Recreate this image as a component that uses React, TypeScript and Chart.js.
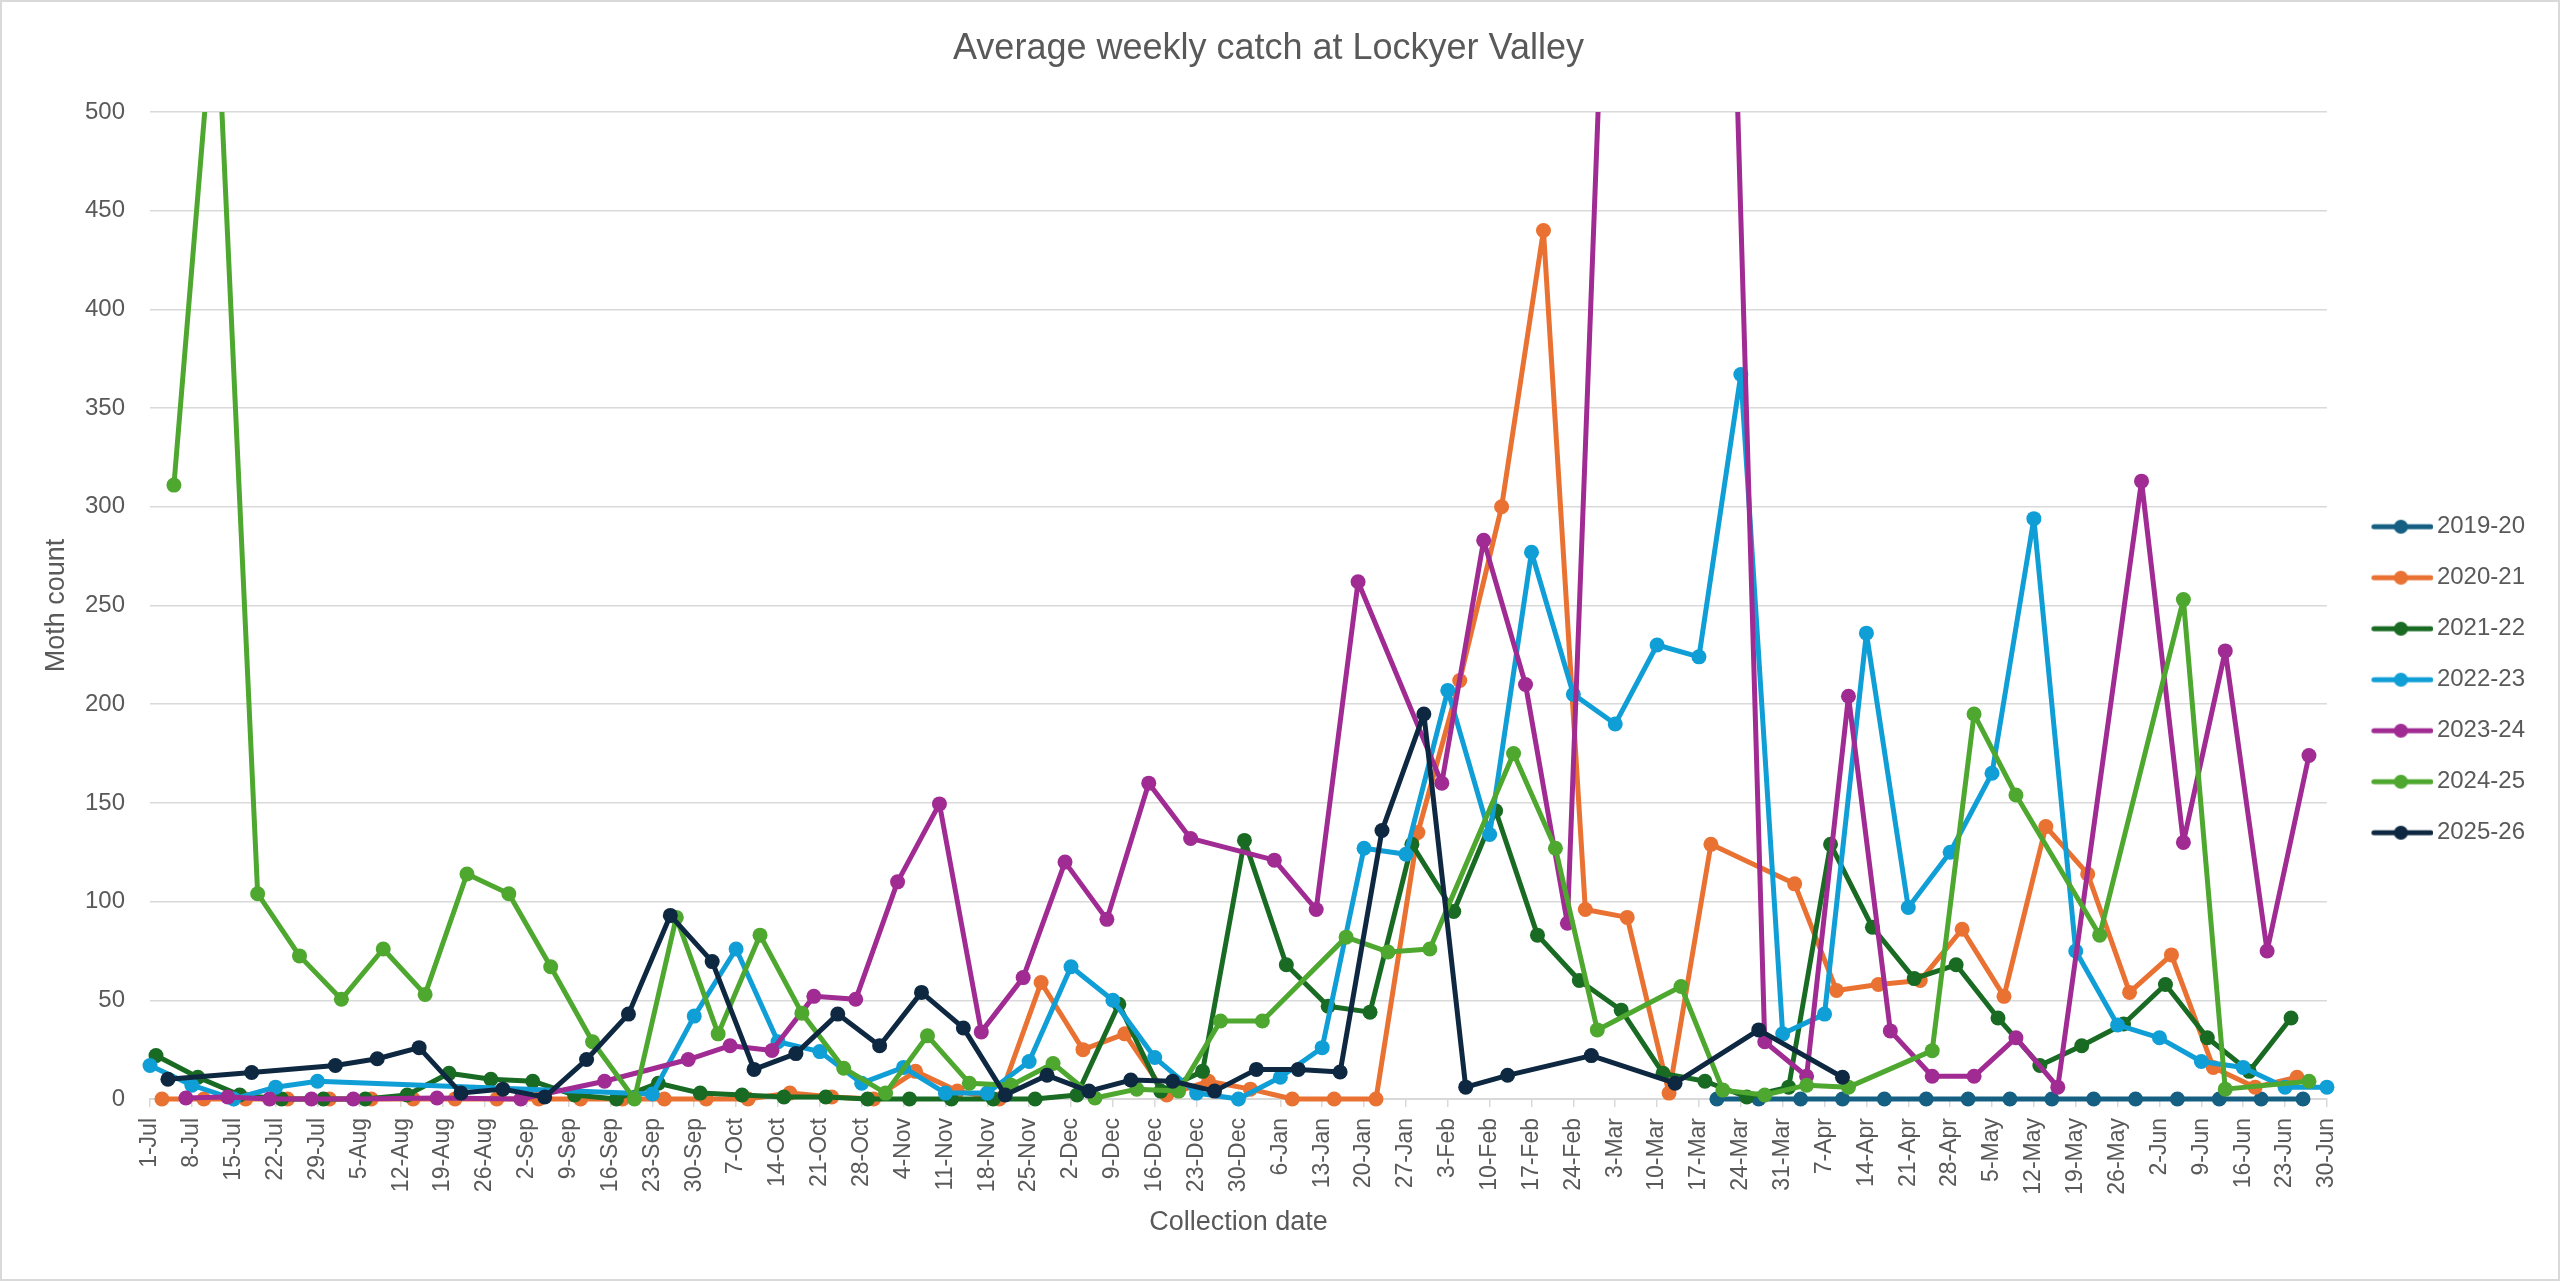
import { useEffect, useRef } from 'react'
import { Chart, registerables } from 'chart.js'

Chart.register(...registerables)

// x positions are days counted from 1 July
const tickLabels = [
  '1-Jul', '8-Jul', '15-Jul', '22-Jul', '29-Jul', '5-Aug', '12-Aug', '19-Aug', '26-Aug',
  '2-Sep', '9-Sep', '16-Sep', '23-Sep', '30-Sep', '7-Oct', '14-Oct', '21-Oct', '28-Oct',
  '4-Nov', '11-Nov', '18-Nov', '25-Nov', '2-Dec', '9-Dec', '16-Dec', '23-Dec', '30-Dec',
  '6-Jan', '13-Jan', '20-Jan', '27-Jan', '3-Feb', '10-Feb', '17-Feb', '24-Feb', '3-Mar',
  '10-Mar', '17-Mar', '24-Mar', '31-Mar', '7-Apr', '14-Apr', '21-Apr', '28-Apr', '5-May',
  '12-May', '19-May', '26-May', '2-Jun', '9-Jun', '16-Jun', '23-Jun', '30-Jun',
]

const days1920 = [262, 269, 276, 283, 290, 297, 304, 311, 318, 325, 332, 339, 346, 353, 360]
const catch1920 = [0, 0, 0, 0, 0, 0, 0, 0, 0, 0, 0, 0, 0, 0, 0]

const days2021 = [
  2, 9, 16, 23, 30, 37, 44, 51, 58, 65, 72, 79, 86, 93, 100, 107, 114, 121, 128, 135, 142,
  149, 156, 163, 170, 177, 184, 191, 198, 205, 212, 219, 226, 233, 240, 247, 254, 261, 275,
  282, 289, 296, 303, 310, 317, 324, 331, 338, 345, 352, 359,
]
const catch2021 = [
  0, 0, 0, 0, 0, 0, 0, 0, 0, 0, 0, 0, 0, 0, 0, 3, 1, 0, 14, 4, 0, 59, 25, 33, 2, 9, 5, 0, 0,
  0, 135, 212, 300, 440, 96, 92, 3, 129, 109, 55, 58, 60, 86, 52, 138, 114, 54, 73, 16, 6, 11,
]

const days2122 = [
  1, 8, 15, 22, 29, 36, 43, 50, 57, 64, 71, 78, 85, 92, 99, 106, 113, 120, 127, 134, 141, 148,
  155, 162, 169, 176, 183, 190, 197, 204, 211, 218, 225, 232, 239, 246, 253, 260, 267, 274,
  281, 288, 295, 302, 309, 316, 323, 330, 337, 344, 351, 358,
]
const catch2122 = [
  22, 11, 2, 0, 0, 0, 2, 13, 10, 9, 2, 0, 8, 3, 2, 1, 1, 0, 0, 0, 0, 0, 2, 48, 4, 14, 131, 68,
  47, 44, 129, 95, 146, 83, 60, 45, 13, 9, 1, 6, 129, 87, 61, 68, 41, 17, 27, 38, 58, 31, 14, 41,
]

const days2223 = [
  0, 7, 14, 21, 28, 84, 91, 98, 105, 112, 119, 126, 133, 140, 147, 154, 161, 168, 175, 182,
  189, 196, 203, 210, 217, 224, 231, 238, 245, 252, 259, 266, 273, 280, 287, 294, 301, 308,
  315, 322, 329, 336, 343, 350, 357, 364,
]
const catch2223 = [
  17, 7, 0, 6, 9, 2.5, 42, 76, 29, 24, 8, 16, 3, 3, 19, 67, 50, 21, 3, 0, 11, 26, 127, 124,
  207, 134, 277, 205, 190, 230, 224, 367, 33, 43, 236, 97, 125, 165, 294, 75, 37.5, 31, 19, 16,
  6, 6,
]

const days2324 = [
  6, 13, 20, 27, 34, 48, 62, 76, 90, 97, 104, 111, 118, 125, 132, 139, 146, 153, 160, 167,
  174, 188, 195, 202, 216, 223, 230, 237, 244, 249, 256, 263, 270, 277, 284, 291, 298, 305,
  312, 319, 333, 340, 347, 354, 361,
]
const catch2324 = [
  0.5, 1, 0, 0, 0, 0.5, 0, 9, 20, 27, 24.6, 52, 50.5, 110, 149.5, 34, 61.5, 120, 91, 160, 132,
  121, 96, 262, 160, 283, 210, 89, 650, 1000, 850, 760, 29, 11.5, 204, 34.5, 11.5, 11.5, 31, 6,
  313, 130, 227, 75, 174,
]

const days2425 = [
  4, 11, 18, 25, 32, 39, 46, 53, 60, 67, 74, 81, 88, 95, 102, 109, 116, 123, 130, 137, 144,
  151, 158, 165, 172, 179, 186, 200, 207, 214, 228, 235, 242, 256, 263, 270, 277, 284, 298,
  305, 312, 326, 340, 347, 361,
]
const catch2425 = [
  311, 568, 104, 72.5, 50.5, 76, 53, 114, 104, 67, 29, 0, 92, 33, 83, 43.5, 15.6, 3, 32, 8, 7,
  18, 0.5, 5, 4, 39.5, 39.5, 82, 74.5, 76, 175, 127, 35, 57, 4.5, 2, 7, 6, 24.5, 195, 154, 83,
  253, 5, 9,
]

const days2526 = [
  3, 17, 31, 38, 45, 52, 59, 66, 73, 80, 87, 94, 101, 108, 115, 122, 129, 136, 143, 150, 157,
  164, 171, 178, 185, 192, 199, 206, 213, 220, 227, 241, 255, 269, 283,
]
const catch2526 = [
  10, 13.4, 17, 20.4, 26, 3, 5, 1, 20, 43, 93, 69.6, 15, 23, 43, 27, 54, 36, 2, 12, 4, 9.6, 9,
  4, 15, 15, 13.7, 136, 195, 6, 12, 22, 8, 35, 11,
]

const seasons = [
  { label: '2019-20', color: '#156082', days: days1920, values: catch1920 },
  { label: '2020-21', color: '#E97132', days: days2021, values: catch2021 },
  { label: '2021-22', color: '#196B24', days: days2122, values: catch2122 },
  { label: '2022-23', color: '#0F9ED5', days: days2223, values: catch2223 },
  { label: '2023-24', color: '#A02B93', days: days2324, values: catch2324 },
  { label: '2024-25', color: '#4EA72E', days: days2425, values: catch2425 },
  { label: '2025-26', color: '#0E2841', days: days2526, values: catch2526 },
]

const FONT = "'Liberation Sans', Arial, sans-serif"
const TEXT = '#595959'
const GRID = '#d9d9d9'

// line-with-dot swatch for the legend
function legendSwatch(color: string) {
  const c = document.createElement('canvas')
  c.width = 88
  c.height = 18
  const g = c.getContext('2d')!
  g.strokeStyle = color
  g.lineWidth = 5
  g.lineCap = 'round'
  g.beginPath()
  g.moveTo(28.5, 9)
  g.lineTo(85.5, 9)
  g.stroke()
  g.fillStyle = color
  g.beginPath()
  g.arc(55.5, 9, 7, 0, Math.PI * 2)
  g.fill()
  return c
}

export default function App() {
  const canvasRef = useRef<HTMLCanvasElement>(null)
  const chartRef = useRef<Chart | null>(null)

  useEffect(() => {
    document.body.style.margin = '0'
    if (!canvasRef.current) return
    if (chartRef.current) chartRef.current.destroy()

    const swatches = seasons.map((s) => legendSwatch(s.color))

    chartRef.current = new Chart(canvasRef.current, {
      type: 'line',
      data: {
        datasets: seasons.map((s, i) => ({
          label: s.label,
          data: s.days.map((d, j) => ({ x: d, y: s.values[j] })),
          borderColor: s.color,
          backgroundColor: s.color,
          borderWidth: 5,
          borderJoinStyle: 'round',
          borderCapStyle: 'round',
          pointRadius: 7.5,
          pointHoverRadius: 7.5,
          pointBorderWidth: 0,
          pointBackgroundColor: s.color,
          tension: 0,
          order: seasons.length - 1 - i,
          clip: { left: 12, top: 0, right: 12, bottom: 12 },
        })),
      },
      options: {
        responsive: true,
        maintainAspectRatio: false,
        animation: false,
        layout: { padding: { top: 25.4, right: 23, bottom: 0, left: 0 } },
        plugins: {
          title: {
            display: true,
            text: 'Average weekly catch at Lockyer Valley',
            color: TEXT,
            font: { family: FONT, size: 36, weight: 'normal' },
            padding: { top: 0, bottom: 41.4 },
          },
          legend: {
            position: 'right',
            align: 'center',
            title: { display: true, text: '', font: { size: 13 }, padding: { top: 0, bottom: 37.4 } },
            labels: {
              usePointStyle: true,
              pointStyleWidth: 71,
              padding: 27,
              color: TEXT,
              font: { family: FONT, size: 24 },
              generateLabels: (chart) =>
                chart.data.datasets.map((ds, i) => ({
                  text: ds.label as string,
                  pointStyle: swatches[i],
                  fillStyle: seasons[i].color,
                  strokeStyle: seasons[i].color,
                  lineWidth: 0,
                  hidden: false,
                  datasetIndex: i,
                  fontColor: TEXT,
                })),
            },
          },
          tooltip: { enabled: false },
        },
        scales: {
          x: {
            type: 'linear',
            min: 0,
            max: 364,
            afterFit: (scale) => {
              scale.height = 180
            },
            ticks: {
              stepSize: 7,
              autoSkip: false,
              maxRotation: 90,
              minRotation: 90,
              padding: 11,
              color: TEXT,
              font: { family: FONT, size: 23 },
              callback: (v) => tickLabels[Math.round(Number(v) / 7)] ?? '',
            },
            grid: { drawOnChartArea: false, drawTicks: true, tickLength: 8, color: GRID, lineWidth: 1.5 },
            border: { display: true, color: GRID, width: 2 },
            title: {
              display: true,
              text: 'Collection date',
              color: TEXT,
              font: { family: FONT, size: 27 },
              padding: { top: 0, bottom: 39.8 },
            },
          },
          y: {
            min: 0,
            max: 500,
            afterFit: (scale) => {
              scale.width = 148
            },
            ticks: {
              stepSize: 50,
              padding: 25,
              color: TEXT,
              font: { family: FONT, size: 24 },
            },
            grid: { color: GRID, lineWidth: 1.5, drawTicks: false },
            border: { display: false },
            title: {
              display: true,
              text: 'Moth count',
              color: TEXT,
              font: { family: FONT, size: 27 },
              padding: { top: 38.8, bottom: 0 },
            },
          },
        },
      },
    })

    return () => {
      if (chartRef.current) {
        chartRef.current.destroy()
        chartRef.current = null
      }
    }
  }, [])

  return (
    <div
      style={{
        width: 2560,
        height: 1281,
        boxSizing: 'border-box',
        border: '2px solid #d9d9d9',
        background: '#fff',
      }}
    >
      <div style={{ position: 'relative', width: 2556, height: 1277 }}>
        <canvas ref={canvasRef} />
      </div>
    </div>
  )
}
